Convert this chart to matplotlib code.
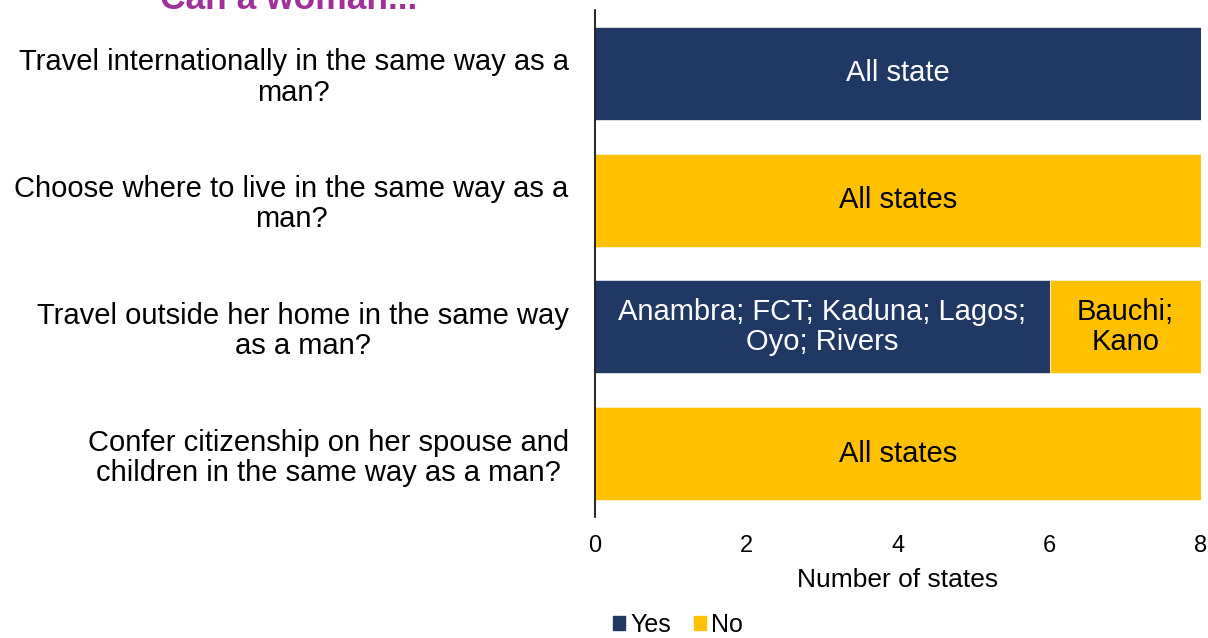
import matplotlib.pyplot as plt
from matplotlib.patches import Patch

plt.rcParams['font.family'] = ['Liberation Sans', 'DejaVu Sans']

# Data
questions = [
    'Travel internationally in the same way as a\nman?',
    'Choose where to live in the same way as a\nman?',
    'Travel outside her home in the same way\nas a man?',
    'Confer citizenship on her spouse and\nchildren in the same way as a man?',
]
yes_counts = [8, 0, 6, 0]
no_counts = [0, 8, 2, 8]
yes_labels = ['All state', '', 'Anambra; FCT; Kaduna; Lagos;\nOyo; Rivers', '']
no_labels = ['', 'All states', 'Bauchi;\nKano', 'All states']

navy = '#203864'
gold = '#FFC000'

fig = plt.figure(figsize=(12.08, 6.38), dpi=100)
ax = fig.add_axes([0.4926, 0.1897, 0.5016, 0.7946])

y = list(range(len(questions)))
ax.barh(y, yes_counts, height=0.735, color=navy, edgecolor='#dfe3ea', linewidth=0.6)
ax.barh(y, no_counts, left=yes_counts, height=0.735, color=gold, edgecolor='#fff3cc', linewidth=0.6)

# text inside the bars
for i in y:
    if yes_counts[i] > 0:
        ax.text(yes_counts[i] / 2, i, yes_labels[i], ha='center', va='center',
                color='white', fontsize=21, multialignment='center', linespacing=1.1)
    if no_counts[i] > 0:
        ax.text(yes_counts[i] + no_counts[i] / 2, i, no_labels[i], ha='center', va='center',
                color='black', fontsize=21, multialignment='center', linespacing=1.1)

ax.set_xlim(0, 8)
ax.set_ylim(3.5, -0.5)
ax.set_xticks([0, 2, 4, 6, 8])
ax.set_yticks(y)
ax.set_yticklabels(questions, fontsize=21, multialignment='center', linespacing=1.1)
ax.tick_params(axis='x', length=0, pad=13, labelsize=17)
ax.tick_params(axis='y', length=0, pad=19)
ax.set_xlabel('Number of states', fontsize=19, labelpad=8)

for s in ['top', 'right', 'bottom']:
    ax.spines[s].set_visible(False)
ax.spines['left'].set_linewidth(1.2)

fig.text(160 / 1208, 1 - 9 / 638, 'Can a woman...', color='#A0309A', fontsize=25.5,
         fontweight='bold', ha='left', va='baseline')

handles = [Patch(color=navy, label='Yes'), Patch(color=gold, label='No')]
fig.legend(handles=handles, loc='center', bbox_to_anchor=(678 / 1208, 1 - 625 / 638),
           ncol=2, frameon=False, fontsize=18, handlelength=0.5, handleheight=0.5,
           handletextpad=0.2, columnspacing=0.9, borderpad=0)

fig.savefig('out.png', dpi=100)
